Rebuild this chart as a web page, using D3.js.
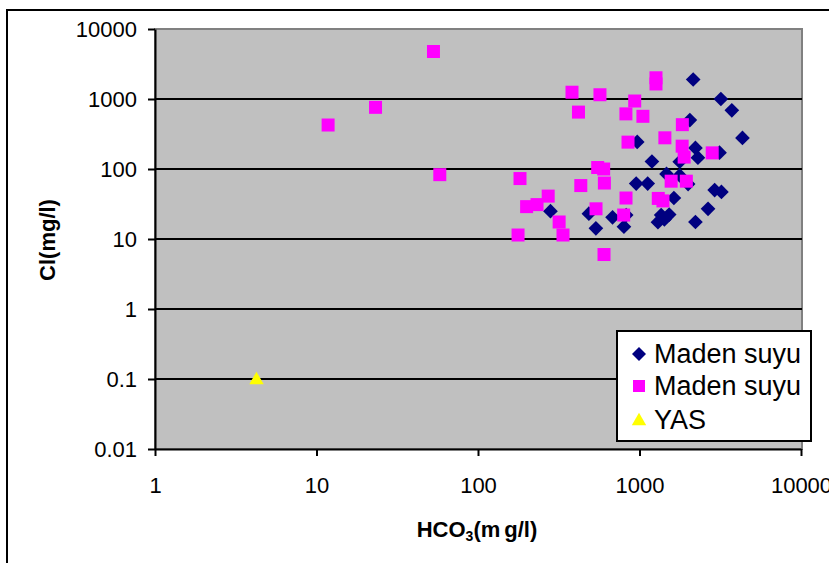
<!DOCTYPE html>
<html>
<head>
<meta charset="utf-8">
<script src="https://cdn.jsdelivr.net/npm/d3@7"></script>
<style>
  body { margin: 0; background: #fff; }
  svg text { font-family: Arial, "Liberation Sans", sans-serif; }
</style>
</head>
<body>
<div id="chart"></div>
<script>
// values
const navyX = [2150, 3190, 3730, 2050, 4340, 968, 2220, 2300, 3130, 1194, 1774, 1470, 1774, 954, 1124, 2000,
  2920, 3216, 1633, 281, 486, 2657, 681, 827, 537, 801, 1362, 1527, 1301, 1426, 2220];
const navyY = [1900, 1000, 690, 500, 278, 244, 200, 145, 171, 128, 127, 85, 81, 62, 62, 61,
  50, 47, 38.5, 25, 23, 27, 20.4, 22, 14.2, 15, 22, 22.3, 17.4, 19, 17.5];

const pinkX = [53, 11.8, 23.2, 58, 182, 200, 232, 272, 177, 318, 336, 382, 419, 433, 569, 551, 600, 538, 606,
  603, 824, 849, 934, 1050, 825, 798, 1265, 1265, 1436, 1307, 1397, 1842, 1837, 1890, 1570, 1950, 2820];
const pinkY = [4770, 425, 760, 83, 73, 29, 31, 41, 11.4, 17.5, 11.4, 1250, 650, 58, 1150, 105, 100, 27, 63,
  6, 613, 242, 936, 566, 38.5, 22, 2010, 1640, 279, 38, 35, 430, 212, 148, 67, 67, 170];

const yasX = [4.25];
const yasY = [0.1];

const xTicks = [1, 10, 100, 1000, 10000];
const yTicks = [0.01, 0.1, 1, 10, 100, 1000, 10000];
const legendNames = ["Maden suyu", "Maden suyu", "YAS"];

const svgWidth = 829, svgHeight = 563;
const plot = { left: 155, right: 801, top: 29, bottom: 449 };

var svg = d3.select("#chart")
  .append("svg")
  .attr("width", svgWidth)
  .attr("height", svgHeight);

// outer chart border (runs off the right and bottom of the picture)
svg.append("rect")
  .attr("x", 7).attr("y", 10)
  .attr("width", 900).attr("height", 700)
  .attr("fill", "#fff")
  .attr("stroke", "#000")
  .attr("stroke-width", 2);

let x = d3.scaleLog().domain([1, 10000]).range([plot.left, plot.right]);
let y = d3.scaleLog().domain([0.01, 10000]).range([plot.bottom, plot.top]);

// plot area
svg.append("rect")
  .attr("x", plot.left).attr("y", plot.top)
  .attr("width", plot.right - plot.left + 1)
  .attr("height", plot.bottom - plot.top)
  .attr("fill", "#c0c0c0")
  .attr("stroke", "#808080")
  .attr("stroke-width", 2);

// horizontal gridlines
svg.append("g")
  .selectAll("line")
  .data(yTicks.filter(d => d > 0.01 && d < 10000))
  .enter()
  .append("line")
  .attr("x1", plot.left).attr("x2", plot.right + 1)
  .attr("y1", d => y(d)).attr("y2", d => y(d))
  .attr("stroke", "#000")
  .attr("stroke-width", 2);

// axes
let bottomAxis = d3.axisBottom(x).tickValues(xTicks).tickFormat(d3.format("d")).tickSizeInner(7).tickSizeOuter(0).tickPadding(21);
let leftAxis = d3.axisLeft(y).tickValues(yTicks).tickFormat(d => String(d)).tickSizeInner(7).tickSizeOuter(0).tickPadding(11);

let xAxis = svg.append("g")
  .attr("transform", `translate(0, ${plot.bottom})`)
  .call(bottomAxis);

let yAxis = svg.append("g")
  .attr("transform", `translate(${plot.left}, 0)`)
  .call(leftAxis);

[xAxis, yAxis].forEach(a => {
  a.select(".domain").attr("stroke", "#000").attr("stroke-width", 2);
  a.selectAll(".tick line").attr("stroke", "#000").attr("stroke-width", 2);
  a.selectAll(".tick text").attr("fill", "#000").style("font-size", "22px").style("font-family", "Arial, 'Liberation Sans', sans-serif");
});

// axis titles
svg.append("text")
  .attr("x", 477).attr("y", 537)
  .attr("text-anchor", "middle")
  .style("font-size", "22px").style("font-weight", "bold")
  .html('HCO<tspan baseline-shift="-25%" font-size="14px">3</tspan>(m<tspan dx="4">g/l)</tspan>');

svg.append("text")
  .attr("transform", "translate(55, 240) rotate(-90)")
  .attr("text-anchor", "middle")
  .style("font-size", "22px").style("font-weight", "bold")
  .text("Cl(mg/l)");

// markers
const diamond = d3.symbol().type(d3.symbolSquare).size(108);
const triangle = d3.symbol().type(d3.symbolTriangle).size(90);

svg.append("g")
  .selectAll("path")
  .data(navyX.map((v, i) => [v, navyY[i]]))
  .enter()
  .append("path")
  .attr("d", diamond)
  .attr("transform", d => `translate(${x(d[0])}, ${y(d[1])}) rotate(45)`)
  .attr("fill", "#000080");

svg.append("g")
  .selectAll("rect")
  .data(pinkX.map((v, i) => [v, pinkY[i]]))
  .enter()
  .append("rect")
  .attr("x", d => x(d[0]) - 6.5)
  .attr("y", d => y(d[1]) - 6.5)
  .attr("width", 13).attr("height", 13)
  .attr("fill", "#ff00ff");

svg.append("g")
  .selectAll("path")
  .data(yasX.map((v, i) => [v, yasY[i]]))
  .enter()
  .append("path")
  .attr("d", triangle)
  .attr("transform", d => `translate(${x(d[0])}, ${y(d[1]) + 1})`)
  .attr("fill", "#ffff00");

// legend
const legend = svg.append("g");
legend.append("rect")
  .attr("x", 617).attr("y", 331)
  .attr("width", 194).attr("height", 110)
  .attr("fill", "#fff")
  .attr("stroke", "#000")
  .attr("stroke-width", 2);

const rows = legend.selectAll("g.row")
  .data(legendNames)
  .enter()
  .append("g")
  .attr("class", "row")
  .attr("transform", (d, i) => `translate(0, ${[354, 386, 420][i]})`);

rows.append("text")
  .attr("x", 654).attr("y", 9)
  .style("font-size", "27px")
  .text(d => d);

rows.filter((d, i) => i === 0).append("path")
  .attr("d", d3.symbol().type(d3.symbolSquare).size(98))
  .attr("transform", "translate(639, 0) rotate(45)")
  .attr("fill", "#000080");

rows.filter((d, i) => i === 1).append("rect")
  .attr("x", 633).attr("y", -6).attr("width", 12).attr("height", 12)
  .attr("fill", "#ff00ff");

rows.filter((d, i) => i === 2).append("path")
  .attr("d", d3.symbol().type(d3.symbolTriangle).size(90))
  .attr("transform", "translate(639, 1)")
  .attr("fill", "#ffff00");
</script>
</body>
</html>
